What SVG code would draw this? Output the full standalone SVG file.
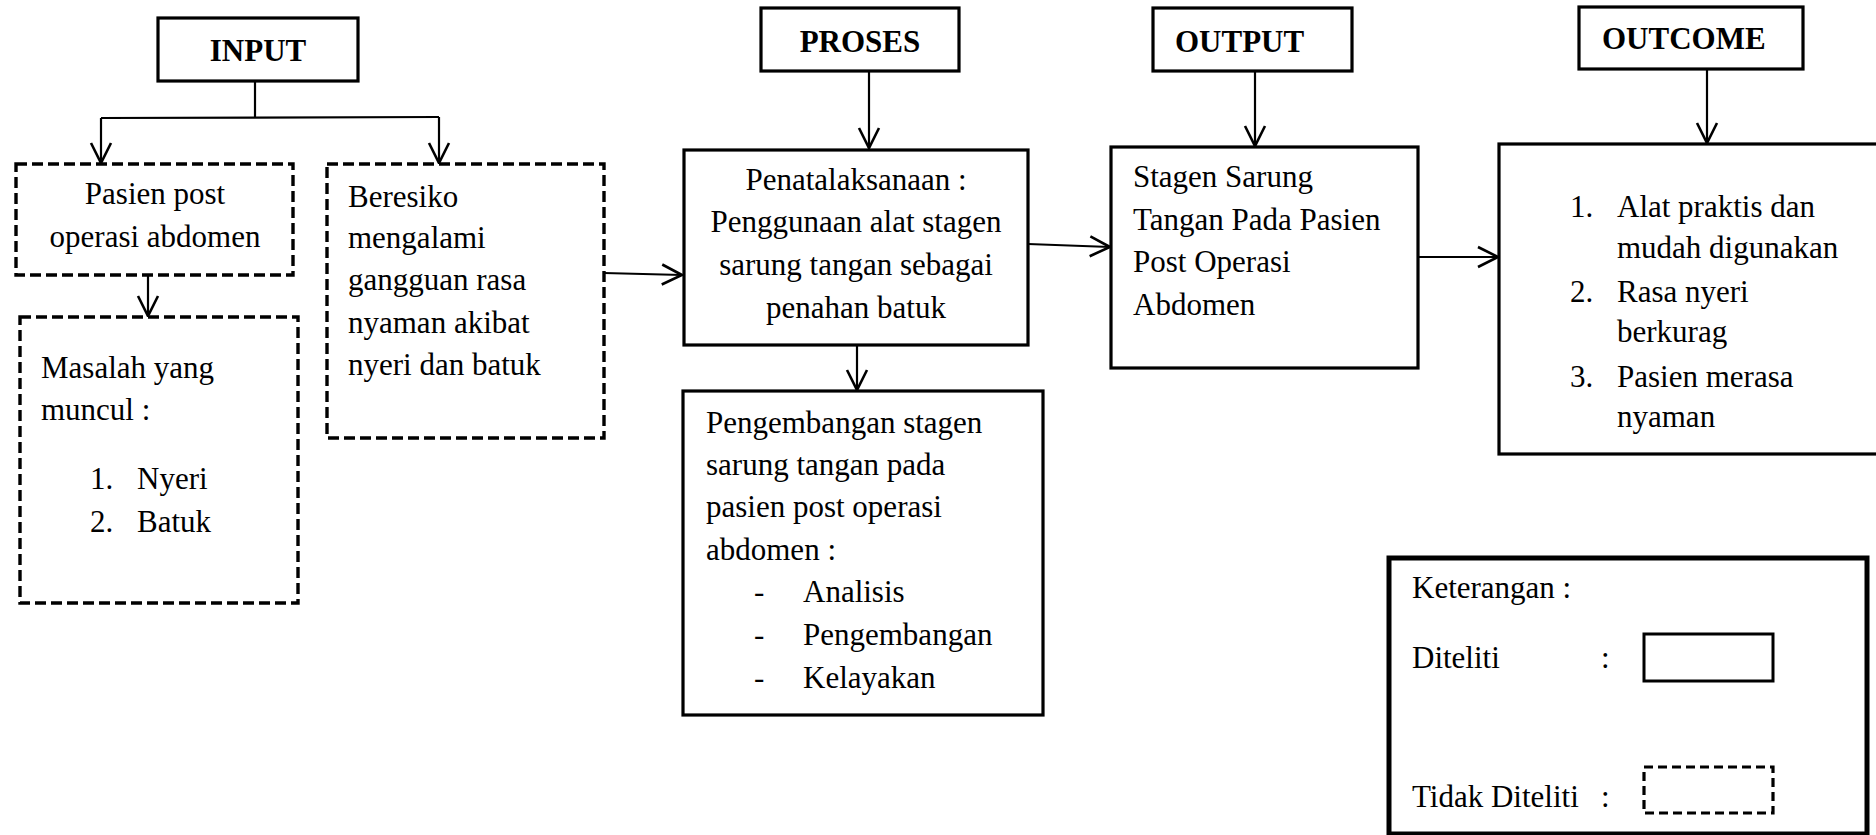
<svg xmlns="http://www.w3.org/2000/svg" width="1876" height="835" viewBox="0 0 1876 835">
<style>
  .box{fill:#fff;stroke:#000;stroke-width:3.2;stroke-linejoin:miter}
  .dash{fill:#fff;stroke:#000;stroke-width:3.4;stroke-dasharray:11 5}
  .t{font-family:"Liberation Serif","Times New Roman",serif;font-size:31px;fill:#000}
  .h{font-family:"Liberation Serif","Times New Roman",serif;font-size:31px;font-weight:bold;fill:#000}
  .c{text-anchor:middle}
  .ln{fill:none;stroke:#000;stroke-width:2.2}
</style>
<defs>
  <marker id="arr" markerUnits="userSpaceOnUse" markerWidth="26" markerHeight="26" viewBox="0 0 26 26" refX="23" refY="13" orient="auto">
    <path d="M3,3 L23,13 L3,23" fill="none" stroke="#000" stroke-width="2.6"/>
  </marker>
</defs>
<rect width="1876" height="835" fill="#fff"/>

<g id="connectors">
  <path class="ln" d="M255,81 V117.5"/>
  <path class="ln" d="M101,118 L439,117"/>
  <path class="ln" d="M101,118 V163" marker-end="url(#arr)"/>
  <path class="ln" d="M439,117 V163" marker-end="url(#arr)"/>
  <path class="ln" d="M148,275 V316" marker-end="url(#arr)"/>
  <path class="ln" d="M604,273 L682,275" marker-end="url(#arr)"/>
  <path class="ln" d="M869,71 V148" marker-end="url(#arr)"/>
  <path class="ln" d="M857,345 V390" marker-end="url(#arr)"/>
  <path class="ln" d="M1028,244 L1110,247" marker-end="url(#arr)"/>
  <path class="ln" d="M1255,71 V146" marker-end="url(#arr)"/>
  <path class="ln" d="M1418,257 H1498" marker-end="url(#arr)"/>
  <path class="ln" d="M1707,69 V143" marker-end="url(#arr)"/>
</g>

<g id="input">
  <rect class="box" x="158" y="18" width="200" height="63"/>
  <text class="h c" x="258" y="61">INPUT</text>
</g>

<g id="pasien">
  <rect class="dash" x="16" y="164" width="277" height="111"/>
  <text class="t c" x="155" y="204">Pasien post</text>
  <text class="t c" x="155" y="247">operasi abdomen</text>
</g>

<g id="masalah">
  <rect class="dash" x="20" y="317" width="278" height="286"/>
  <text class="t" x="41" y="378">Masalah yang</text>
  <text class="t" x="41" y="420">muncul :</text>
  <text class="t" x="90" y="489">1.</text>
  <text class="t" x="137" y="489">Nyeri</text>
  <text class="t" x="90" y="532">2.</text>
  <text class="t" x="137" y="532">Batuk</text>
</g>

<g id="beresiko">
  <rect class="dash" x="327" y="164" width="277" height="274"/>
  <text class="t" x="348" y="207">Beresiko</text>
  <text class="t" x="348" y="248">mengalami</text>
  <text class="t" x="348" y="290">gangguan rasa</text>
  <text class="t" x="348" y="333">nyaman akibat</text>
  <text class="t" x="348" y="375">nyeri dan batuk</text>
</g>

<g id="proses">
  <rect class="box" x="761" y="8" width="198" height="63"/>
  <text class="h c" x="860" y="52">PROSES</text>
</g>

<g id="penatalaksanaan">
  <rect class="box" x="684" y="150" width="344" height="195"/>
  <text class="t c" x="856" y="190">Penatalaksanaan :</text>
  <text class="t c" x="856" y="232">Penggunaan alat stagen</text>
  <text class="t c" x="856" y="275">sarung tangan sebagai</text>
  <text class="t c" x="856" y="318">penahan batuk</text>
</g>

<g id="pengembangan">
  <rect class="box" x="683" y="391" width="360" height="324"/>
  <text class="t" x="706" y="433">Pengembangan stagen</text>
  <text class="t" x="706" y="475">sarung tangan pada</text>
  <text class="t" x="706" y="517">pasien post operasi</text>
  <text class="t" x="706" y="560">abdomen :</text>
  <text class="t" x="754" y="602">-</text>
  <text class="t" x="803" y="602">Analisis</text>
  <text class="t" x="754" y="645">-</text>
  <text class="t" x="803" y="645">Pengembangan</text>
  <text class="t" x="754" y="688">-</text>
  <text class="t" x="803" y="688">Kelayakan</text>
</g>

<g id="output">
  <rect class="box" x="1153" y="8" width="199" height="63"/>
  <text class="h" x="1175" y="52">OUTPUT</text>
</g>

<g id="stagen">
  <rect class="box" x="1111" y="147" width="307" height="221"/>
  <text class="t" x="1133" y="187">Stagen Sarung</text>
  <text class="t" x="1133" y="230">Tangan Pada Pasien</text>
  <text class="t" x="1133" y="272">Post Operasi</text>
  <text class="t" x="1133" y="315">Abdomen</text>
</g>

<g id="outcome">
  <rect class="box" x="1579" y="7" width="224" height="62"/>
  <text class="h" x="1602" y="49">OUTCOME</text>
</g>

<g id="hasil">
  <rect class="box" x="1499" y="144" width="390" height="310"/>
  <text class="t" x="1570" y="217">1.</text>
  <text class="t" x="1617" y="217">Alat praktis dan</text>
  <text class="t" x="1617" y="258">mudah digunakan</text>
  <text class="t" x="1570" y="302">2.</text>
  <text class="t" x="1617" y="302">Rasa nyeri</text>
  <text class="t" x="1617" y="342">berkurag</text>
  <text class="t" x="1570" y="387">3.</text>
  <text class="t" x="1617" y="387">Pasien merasa</text>
  <text class="t" x="1617" y="427">nyaman</text>
</g>

<g id="legend">
  <rect x="1389" y="558" width="478" height="276" fill="#fff" stroke="#000" stroke-width="5"/>
  <text class="t" x="1412" y="598">Keterangan :</text>
  <text class="t" x="1412" y="668">Diteliti</text>
  <text class="t" x="1601" y="668">:</text>
  <rect x="1644" y="634" width="129" height="47" fill="#fff" stroke="#000" stroke-width="3"/>
  <text class="t" x="1412" y="807">Tidak Diteliti</text>
  <text class="t" x="1601" y="807">:</text>
  <rect x="1644" y="767" width="129" height="46" fill="#fff" stroke="#000" stroke-width="3.2" stroke-dasharray="9 5"/>
</g>
</svg>
